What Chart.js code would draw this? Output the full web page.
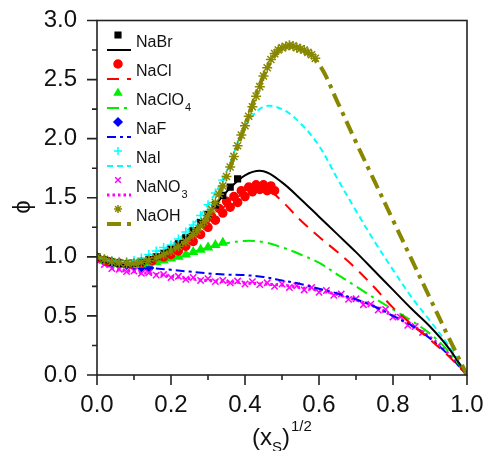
<!DOCTYPE html>
<html>
<head>
<meta charset="utf-8">
<script src="https://cdn.jsdelivr.net/npm/chart.js@4"></script>
<style>html,body{margin:0;padding:0;background:#fff}</style>
</head>
<body>
<canvas id="chart" width="485" height="451"></canvas>
<script>
// legend order
var salts = ['NaBr', 'NaCl', 'NaClO4', 'NaF', 'NaI', 'NaNO3', 'NaOH'];

// experimental points (markers)
var brMarkX = [0, 0.02, 0.04, 0.06, 0.08, 0.10, 0.12, 0.14, 0.16, 0.18, 0.20, 0.22, 0.24, 0.26, 0.28, 0.30, 0.32, 0.34, 0.36, 0.38];
var brMarkY = [1.00, 0.975, 0.955, 0.945, 0.94, 0.945, 0.955, 0.975, 1.00, 1.03, 1.07, 1.11, 1.16, 1.22, 1.29, 1.36, 1.44, 1.52, 1.59, 1.66];

var clMarkX = [0, 0.03, 0.06, 0.09, 0.12, 0.15, 0.18, 0.19, 0.20, 0.21, 0.22, 0.23, 0.24, 0.25, 0.26, 0.27, 0.28, 0.29, 0.30, 0.31, 0.32, 0.33, 0.34, 0.35, 0.36, 0.37, 0.38, 0.39, 0.40, 0.41, 0.42, 0.43, 0.44, 0.45, 0.46, 0.47, 0.48];
var clMarkY = [0.99, 0.96, 0.945, 0.94, 0.95, 0.97, 1.00, 1.03, 1.02, 1.07, 1.05, 1.11, 1.09, 1.16, 1.13, 1.21, 1.19, 1.28, 1.25, 1.34, 1.31, 1.41, 1.37, 1.47, 1.42, 1.51, 1.46, 1.56, 1.51, 1.59, 1.55, 1.61, 1.57, 1.61, 1.56, 1.60, 1.56];

var clo4MarkX = [0, 0.02, 0.04, 0.06, 0.08, 0.10, 0.12, 0.14, 0.16, 0.18, 0.20, 0.22, 0.24, 0.26, 0.28, 0.30, 0.32, 0.34];
var clo4MarkY = [0.99, 0.97, 0.95, 0.94, 0.93, 0.93, 0.935, 0.945, 0.955, 0.97, 0.985, 1.00, 1.02, 1.04, 1.06, 1.08, 1.10, 1.12];

var fMarkX = [0, 0.02, 0.04, 0.06, 0.08, 0.10, 0.12, 0.14];
var fMarkY = [0.99, 0.97, 0.955, 0.945, 0.935, 0.925, 0.915, 0.905];

var iMarkX = [0, 0.02, 0.04, 0.06, 0.08, 0.10, 0.12, 0.14, 0.16, 0.18, 0.20, 0.22, 0.24, 0.26, 0.28, 0.30, 0.32, 0.34];
var iMarkY = [1.00, 0.98, 0.965, 0.96, 0.96, 0.97, 0.99, 1.02, 1.05, 1.08, 1.10, 1.15, 1.21, 1.27, 1.35, 1.44, 1.54, 1.65];

var no3MarkX = [0, 0.02, 0.04, 0.06, 0.08, 0.10, 0.12, 0.14, 0.16, 0.18, 0.20, 0.22, 0.24, 0.26, 0.28, 0.30, 0.32, 0.34, 0.36, 0.38, 0.40, 0.42, 0.44, 0.46, 0.48, 0.50, 0.52, 0.54, 0.56, 0.58, 0.60, 0.62, 0.64, 0.66, 0.68, 0.70, 0.72, 0.74, 0.76, 0.78, 0.80, 0.82, 0.84, 0.86, 0.88];
var no3MarkY = [0.97, 0.935, 0.90, 0.895, 0.875, 0.88, 0.86, 0.865, 0.845, 0.85, 0.825, 0.835, 0.81, 0.825, 0.80, 0.815, 0.79, 0.80, 0.78, 0.795, 0.77, 0.79, 0.765, 0.78, 0.75, 0.77, 0.74, 0.755, 0.72, 0.74, 0.70, 0.715, 0.675, 0.685, 0.64, 0.645, 0.595, 0.60, 0.55, 0.555, 0.49, 0.49, 0.42, 0.41, 0.36];

var ohMarkX = [0, 0.02, 0.04, 0.06, 0.08, 0.10, 0.12, 0.14, 0.16, 0.18, 0.20, 0.22, 0.24, 0.26, 0.27, 0.28, 0.29, 0.30, 0.31, 0.32, 0.33, 0.34, 0.35, 0.36, 0.37, 0.38, 0.39, 0.40, 0.41, 0.42, 0.43, 0.44, 0.45, 0.46, 0.47, 0.48, 0.49, 0.50, 0.51, 0.52, 0.53, 0.54, 0.55, 0.56, 0.57, 0.58, 0.59];
var ohMarkY = [1.00, 0.98, 0.96, 0.95, 0.945, 0.945, 0.955, 0.97, 0.99, 1.02, 1.05, 1.09, 1.13, 1.19, 1.22, 1.26, 1.30, 1.35, 1.40, 1.46, 1.53, 1.60, 1.68, 1.76, 1.85, 1.94, 2.03, 2.11, 2.19, 2.27, 2.36, 2.44, 2.53, 2.60, 2.67, 2.72, 2.75, 2.77, 2.78, 2.79, 2.785, 2.77, 2.76, 2.75, 2.73, 2.71, 2.68];

// model curves (lines), sampled every 0.05
var lineX = [0, 0.05, 0.10, 0.15, 0.20, 0.25, 0.30, 0.35, 0.40, 0.45, 0.50, 0.55, 0.60, 0.65, 0.70, 0.75, 0.80, 0.85, 0.90, 0.95, 1.0];
var brLineY   = [1.00, 0.95, 0.945, 0.985, 1.07, 1.19, 1.36, 1.55, 1.69, 1.725, 1.63, 1.49, 1.34, 1.19, 1.04, 0.88, 0.72, 0.56, 0.41, 0.23, 0];
var clLineY   = [1.00, 0.955, 0.94, 0.97, 1.04, 1.14, 1.29, 1.44, 1.54, 1.59, 1.47, 1.31, 1.17, 1.04, 0.90, 0.74, 0.57, 0.43, 0.30, 0.16, 0];
var clo4LineY = [1.00, 0.945, 0.93, 0.95, 0.985, 1.03, 1.08, 1.115, 1.135, 1.125, 1.08, 1.02, 0.95, 0.85, 0.75, 0.65, 0.555, 0.46, 0.35, 0.20, 0];
var fLineY    = [1.00, 0.96, 0.925, 0.905, 0.89, 0.875, 0.86, 0.85, 0.845, 0.83, 0.80, 0.77, 0.73, 0.69, 0.64, 0.58, 0.50, 0.42, 0.31, 0.17, 0];
var iLineY    = [1.00, 0.96, 0.97, 1.03, 1.10, 1.24, 1.44, 1.72, 2.10, 2.27, 2.25, 2.13, 1.94, 1.66, 1.39, 1.13, 0.89, 0.66, 0.46, 0.25, 0];
var no3LineY  = [0.97, 0.895, 0.875, 0.855, 0.835, 0.815, 0.80, 0.79, 0.78, 0.77, 0.76, 0.74, 0.715, 0.68, 0.635, 0.58, 0.50, 0.42, 0.32, 0.18, 0];
var ohLineY   = [1.00, 0.955, 0.945, 0.98, 1.05, 1.16, 1.35, 1.68, 2.11, 2.53, 2.77, 2.76, 2.63, 2.31, 1.97, 1.64, 1.31, 0.98, 0.65, 0.32, 0];

var look = {
  NaBr:   { color: '#000000', dash: [],            width: 2,   point: 'rect',     r: 4 },
  NaCl:   { color: '#ff0000', dash: [12, 8],       width: 2,   point: 'circle',   r: 4 },
  NaClO4: { color: '#00ee00', dash: [12, 5, 3, 5], width: 2,   point: 'triangle', r: 4.5 },
  NaF:    { color: '#0000ff', dash: [9, 4, 3, 4],  width: 2,   point: 'rectRot',  r: 4.5 },
  NaI:    { color: '#00ffff', dash: [6, 4],        width: 2,   point: 'cross',    r: 4.5 },
  NaNO3:  { color: '#ff00ff', dash: [2.5, 3],      width: 3,   point: 'crossRot', r: 4.5 },
  NaOH:   { color: '#878700', dash: [14, 6, 4, 6], width: 4,   point: 'star',     r: 5 }
};

function pts(xs, ys) {
  return xs.map(function (x, i) { return { x: x, y: ys[i] }; });
}

function marks(name, xs, ys, order) {
  var s = look[name];
  return {
    label: name, data: pts(xs, ys), showLine: false, order: order,
    pointStyle: s.point, pointRadius: s.r, pointBorderWidth: 1.5,
    pointBackgroundColor: s.color, pointBorderColor: s.color
  };
}

function curve(name, ys, order) {
  var s = look[name];
  return {
    label: name, data: pts(lineX, ys), order: order, pointRadius: 0,
    borderColor: s.color, borderWidth: s.width, borderDash: s.dash,
    tension: 0.35, fill: false
  };
}

var legendBox = {
  id: 'legendBox',
  afterDraw: function (chart) {
    var ctx = chart.ctx;
    ctx.save();
    salts.forEach(function (name, i) {
      var s = look[name];
      var my = 35 + i * 29, ly = my + 15;
      ctx.fillStyle = s.color; ctx.strokeStyle = s.color; ctx.lineWidth = 1.5;
      Chart.helpers.drawPoint(ctx, { pointStyle: s.point, radius: 4, rotation: 0, borderWidth: 1.5 }, 118, my);
      ctx.beginPath();
      ctx.lineWidth = s.width; ctx.setLineDash(s.dash);
      ctx.moveTo(107, ly); ctx.lineTo(131, ly); ctx.stroke();
      ctx.setLineDash([]);
      var m = name.match(/^(.*?)(\d*)$/);
      ctx.fillStyle = '#111'; ctx.textBaseline = 'middle';
      ctx.font = '16px "Liberation Sans", Arial, sans-serif';
      ctx.fillText(m[1], 136, my + 8);
      if (m[2]) {
        var w = ctx.measureText(m[1]).width;
        ctx.font = '11px "Liberation Sans", Arial, sans-serif';
        ctx.fillText(m[2], 136 + w + 1, my + 15);
      }
    });
    ctx.restore();
  }
};

var frame = {
  id: 'frame',
  afterDraw: function (chart) {
    var ctx = chart.ctx, a = chart.chartArea, sx = chart.scales.x, sy = chart.scales.y;
    ctx.save();
    ctx.strokeStyle = '#222'; ctx.lineWidth = 1.6;
    ctx.strokeRect(a.left, a.top, a.right - a.left, a.bottom - a.top);
    ctx.beginPath();
    sx.ticks.forEach(function (t, i) {
      var px = sx.getPixelForValue(t.value);
      ctx.moveTo(px, a.bottom); ctx.lineTo(px, a.bottom + (i % 2 ? 5 : 10));
    });
    sy.ticks.forEach(function (t, i) {
      var py = sy.getPixelForValue(t.value);
      ctx.moveTo(a.left, py); ctx.lineTo(a.left - (i % 2 ? 5 : 10), py);
    });
    ctx.stroke();

    // axis titles
    ctx.fillStyle = '#111'; ctx.textBaseline = 'alphabetic';
    var cx = (a.left + a.right) / 2, x0 = cx - 30, base = 445;
    ctx.font = '24px "Liberation Sans", Arial, sans-serif';
    ctx.fillText('(x', x0, base); x0 += ctx.measureText('(x').width;
    ctx.font = '15px "Liberation Sans", Arial, sans-serif';
    ctx.fillText('S', x0, base + 7); x0 += ctx.measureText('S').width;
    ctx.font = '24px "Liberation Sans", Arial, sans-serif';
    ctx.fillText(')', x0, base); x0 += ctx.measureText(')').width;
    ctx.font = '15px "Liberation Sans", Arial, sans-serif';
    ctx.fillText('1/2', x0 + 1, base - 14);

    ctx.translate(23, 207); ctx.rotate(-Math.PI / 2);
    ctx.font = '24px "Liberation Sans", Arial, sans-serif';
    ctx.textAlign = 'center'; ctx.textBaseline = 'middle';
    ctx.fillText('\u03D5', 0, 0);
    ctx.restore();
  }
};

Chart.defaults.font.family = '"Liberation Sans", Arial, sans-serif';

new Chart(document.getElementById('chart'), {
  type: 'line',
  data: {
    datasets: [
      marks('NaOH', ohMarkX, ohMarkY, 0),
      marks('NaI', iMarkX, iMarkY, 1),
      curve('NaOH', ohLineY, 2),
      marks('NaBr', brMarkX, brMarkY, 3),
      curve('NaBr', brLineY, 4),
      curve('NaI', iLineY, 5),
      marks('NaCl', clMarkX, clMarkY, 6),
      curve('NaCl', clLineY, 7),
      marks('NaClO4', clo4MarkX, clo4MarkY, 8),
      curve('NaClO4', clo4LineY, 9),
      curve('NaF', fLineY, 10),
      marks('NaNO3', no3MarkX, no3MarkY, 11),
      marks('NaF', fMarkX, fMarkY, 12),
      curve('NaNO3', no3LineY, 13)
    ]
  },
  options: {
    responsive: false,
    animation: false,
    layout: { padding: { top: 20.5, right: 18, left: 0, bottom: 0 } },
    plugins: { legend: { display: false }, tooltip: { enabled: false } },
    scales: {
      x: {
        type: 'linear', min: 0, max: 1,
        grid: { display: false, drawTicks: false }, border: { display: false },
        afterFit: function (s) { s.height = 76; s.paddingLeft = 0; s.paddingRight = 0; },
        ticks: {
          stepSize: 0.1, autoSkip: false, maxRotation: 0, padding: 16, color: '#111',
          font: { size: 24 },
          callback: function (v, i) { return i % 2 ? '' : v.toFixed(1); }
        }
      },
      y: {
        min: 0, max: 3,
        grid: { display: false, drawTicks: false }, border: { display: false },
        afterFit: function (s) { s.width = 97; s.paddingTop = 0; s.paddingBottom = 0; },
        ticks: {
          stepSize: 0.25, autoSkip: false, padding: 20, color: '#111',
          font: { size: 24 },
          callback: function (v, i) { return i % 2 ? '' : v.toFixed(1); }
        }
      }
    }
  },
  plugins: [frame, legendBox]
});
</script>
</body>
</html>
